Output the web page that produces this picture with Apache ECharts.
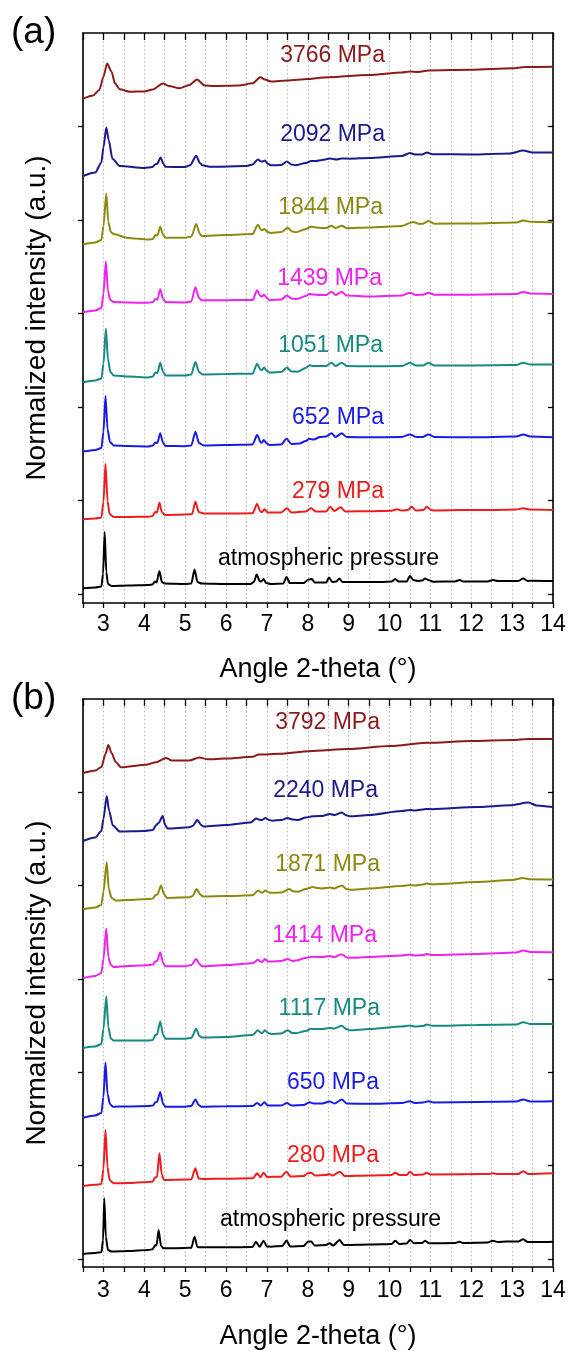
<!DOCTYPE html>
<html><head><meta charset="utf-8">
<script src="https://cdn.jsdelivr.net/npm/echarts@6/dist/echarts.min.js"></script>
<style>html,body{margin:0;padding:0;background:#fff}#c{width:570px;height:1351px}</style>
</head><body><div id="c"></div>
<script>
// ---------- DATA (intensity in a.u., traces already stacked) ----------
const xTickLabels = [3,4,5,6,7,8,9,10,11,12,13,14];
const yTicksA = [0,93.5,187,280.5,374,467.5];
const yTicksB = [0,93.4,186.8,280.2,373.6,467];

const namesA = ['atmospheric pressure','279 MPa','652 MPa','1051 MPa','1439 MPa','1844 MPa','2092 MPa','3766 MPa'];
const namesB = ['atmospheric pressure','280 MPa','650 MPa','1117 MPa','1414 MPa','1871 MPa','2240 MPa','3792 MPa'];
const colors = ['#000000','#EE1C1C','#1A1AE6','#168A80','#EE22EE','#8A8A12','#1A1A8A','#8B1A1A'];

const a_atm = [[2.5,5.7],[2.8,6.5],[2.95,7.5],[2.99,20],[3.03,62],[3.07,22],[3.11,10],[3.2,8],[3.6,8.5],[4.1,9],[4.2,9.5],[4.26,12.5],[4.3,11.5],[4.37,23],[4.43,12],[4.5,10.5],[5.0,10],[5.15,10.5],[5.23,24.5],[5.3,12],[5.4,10.5],[6.0,10],[6.6,10],[6.68,12],[6.75,19.5],[6.82,13],[6.86,12.5],[6.92,15],[6.98,11],[7.1,10],[7.4,10.5],[7.48,17],[7.56,11],[7.9,11],[8.02,14.5],[8.1,15],[8.17,11.5],[8.45,11.5],[8.52,16.5],[8.6,12],[8.7,12.5],[8.77,15.5],[8.85,12],[9.1,12],[9.8,12],[10.05,12.5],[10.14,15],[10.22,12.5],[10.42,12.5],[10.5,18],[10.58,14],[10.7,13],[10.8,13.5],[10.87,15.5],[10.95,14],[11.07,12.3],[11.6,12.5],[11.72,14],[11.8,12.5],[12.4,12.5],[12.53,14],[12.65,13],[12.86,13],[13.15,13],[13.27,15.5],[13.38,13],[13.5,13.3],[14,13]];
const a_279 = [[2.5,74.7],[2.8,75.5],[2.95,76.5],[3.0,92],[3.05,130],[3.1,93],[3.15,80],[3.25,77],[3.6,77],[4.1,77.3],[4.2,78],[4.27,82.3],[4.31,81.5],[4.37,91.3],[4.43,82],[4.5,79],[5.0,79.5],[5.17,80],[5.25,92.3],[5.33,82],[5.45,80.5],[6.0,80.5],[6.65,80.7],[6.76,90],[6.84,82.5],[6.88,82],[6.94,84.7],[7.02,81.5],[7.35,81.5],[7.49,85.7],[7.6,81.5],[7.95,82.5],[8.08,85.7],[8.2,82.5],[8.45,82.5],[8.55,87.3],[8.65,83],[8.8,86.7],[8.92,82.5],[9.5,82.8],[10.05,83.3],[10.18,84.7],[10.3,83.5],[10.45,84],[10.54,87.3],[10.65,83.5],[10.83,84],[10.91,87.3],[11.02,84],[11.1,83.5],[11.72,84],[12.5,84],[13.1,84.5],[13.27,85.7],[13.45,84.5],[14,84]];
const a_652 = [[2.5,142.4],[2.8,144],[2.95,146],[3.0,162],[3.05,198],[3.1,165],[3.16,152],[3.25,148.6],[3.6,148],[4.1,147.5],[4.21,148.5],[4.27,151.6],[4.32,151],[4.39,160.7],[4.46,151],[4.52,148],[5.0,147.8],[5.15,148.5],[5.25,162.2],[5.34,151],[5.45,148.6],[6.0,149],[6.65,149.5],[6.76,159],[6.85,151.5],[6.88,151.5],[6.92,154.1],[7.0,150.5],[7.06,149],[7.35,149.5],[7.48,155.2],[7.6,150],[7.8,150.5],[7.95,153],[8.04,155.2],[8.15,154.5],[8.3,157],[8.45,157.5],[8.58,160.7],[8.68,157],[8.83,160.7],[8.95,157],[9.5,156.7],[10.3,157],[10.5,159.6],[10.65,157],[10.82,157],[10.95,159.6],[11.1,157],[12.0,156.7],[13.1,157.5],[13.27,159.6],[13.45,157.5],[14,156.7]];
const a_1051 = [[2.5,211.8],[2.8,213.5],[2.95,215.5],[3.0,230],[3.06,265.5],[3.11,235],[3.17,222],[3.25,218.5],[3.6,217.5],[4.1,216.6],[4.21,217.5],[4.27,221.4],[4.32,221],[4.39,231.3],[4.46,222],[4.52,218.5],[5.0,218.5],[5.15,219.5],[5.25,232.1],[5.34,222],[5.42,219.6],[6.0,220],[6.65,220.3],[6.76,230.2],[6.84,224.5],[6.88,224],[6.93,226.5],[7.0,223],[7.08,221.4],[7.35,222],[7.49,226.5],[7.6,222.5],[7.75,222.3],[7.95,226],[8.04,228.7],[8.15,228],[8.3,228],[8.45,228],[8.58,231.3],[8.68,228],[8.83,231.3],[8.95,228],[9.5,227.7],[10.3,228],[10.5,231.3],[10.65,228.5],[10.82,228.5],[10.95,231.3],[11.1,228.5],[12.0,228.5],[13.1,229],[13.27,231.3],[13.45,229.5],[14,229.5]];
const a_1439 = [[2.5,281.7],[2.8,283.5],[2.95,286],[3.0,300],[3.06,332.4],[3.11,303],[3.17,294],[3.25,292],[3.6,291.5],[4.1,291.2],[4.21,292],[4.27,294.9],[4.32,294.5],[4.39,304.8],[4.46,295],[4.52,292],[5.0,291.5],[5.15,292.5],[5.25,306.7],[5.34,296],[5.4,293.8],[6.0,293.8],[6.65,294],[6.76,303.7],[6.84,298],[6.88,297.5],[6.93,299.3],[7.0,296],[7.06,293.8],[7.35,294.5],[7.49,298.6],[7.6,295.5],[7.71,294.9],[7.95,298],[8.04,300],[8.15,299.5],[8.3,299],[8.45,299],[8.58,302.3],[8.68,299],[8.83,302.3],[8.95,298.5],[9.5,297.5],[10.3,298.5],[10.5,301.2],[10.65,299],[10.82,299.3],[10.95,301.2],[11.1,299.3],[12.0,299.3],[13.1,300],[13.27,301.9],[13.45,300.5],[14,300]];
const a_1844 = [[2.5,349.7],[2.8,351.5],[2.95,354],[3.0,368],[3.07,400.4],[3.12,372],[3.18,362],[3.25,360],[3.6,356],[4.1,354.5],[4.21,355],[4.27,358.9],[4.32,358.5],[4.39,367.3],[4.46,359],[4.52,356.3],[5.0,356.3],[5.15,357.5],[5.27,369.9],[5.36,360],[5.41,358.1],[6.0,359],[6.65,360],[6.78,369.2],[6.86,364],[6.88,363.7],[6.94,365],[7.02,362],[7.1,361.1],[7.35,362],[7.51,366.2],[7.62,362.5],[7.71,361.8],[7.95,365],[8.08,367.3],[8.2,366.5],[8.35,366],[8.45,366],[8.58,368.3],[8.68,366],[8.83,368.3],[8.95,365.8],[9.5,366.5],[10.3,368],[10.58,372.1],[10.72,370],[10.82,370.3],[10.95,372.9],[11.1,370.3],[12.0,370.5],[13.1,371.5],[13.27,373.6],[13.45,372.2],[14,371.7]];
const a_2092 = [[2.5,418],[2.8,421.4],[2.95,431.6],[3.0,446.4],[3.07,466.6],[3.13,453.7],[3.22,435.3],[3.4,428],[4.0,426.1],[4.2,427],[4.27,429.8],[4.31,430],[4.4,436.4],[4.47,430],[4.52,427.2],[5.0,426.9],[5.12,428.7],[5.27,438.3],[5.36,431],[5.42,428.7],[5.6,427.2],[6.5,428],[6.65,429.5],[6.78,434.6],[6.86,432.5],[6.88,432.4],[6.95,433.5],[7.03,430],[7.1,428.7],[7.35,429],[7.49,432.4],[7.6,429.5],[7.7,428.7],[7.95,431],[8.08,433],[8.2,433],[8.35,434],[8.55,435.5],[8.7,434.5],[8.83,435.5],[9.03,435.3],[9.5,436],[10.3,438],[10.5,441],[10.62,439.5],[10.8,439.5],[10.92,441.6],[11.05,439.8],[12.0,439.5],[12.95,440.5],[13.27,443.4],[13.5,441.5],[14,441.6]];
const a_3766 = [[2.5,495.3],[2.75,498.6],[2.9,504],[3.0,517.3],[3.09,530.5],[3.2,522.3],[3.28,510.7],[3.4,504.7],[3.64,502.3],[4.0,502.6],[4.2,504.4],[4.46,510.5],[4.6,508],[4.86,505.7],[5.1,509],[5.29,514.6],[5.48,508.5],[5.7,508],[6.3,508.5],[6.65,510.7],[6.84,516.8],[6.95,514.5],[7.1,512.5],[7.5,513.5],[8.0,515],[8.3,516.2],[9.5,519.1],[10.3,521.5],[10.5,522.5],[10.7,522],[10.95,523.6],[12.0,524.3],[13.0,525.8],[13.3,526.9],[14,527.2]];

const b_atm = [[2.5,5],[2.8,6],[2.95,6.8],[2.99,19],[3.02,60.7],[3.06,22],[3.11,9],[3.2,7.5],[3.6,8],[4.1,9],[4.2,9.7],[4.27,14],[4.3,13.5],[4.35,29],[4.41,13],[4.47,10.7],[5.0,11],[5.15,11.3],[5.23,22.3],[5.3,12],[5.4,11.7],[6.0,11.7],[6.65,12],[6.73,17.3],[6.82,12.3],[6.92,18.3],[7.0,12.5],[7.1,12.3],[7.38,13],[7.48,18.5],[7.57,12.5],[7.9,13],[8.0,17.3],[8.08,17.5],[8.17,13.5],[8.45,14],[8.53,15.7],[8.62,13.5],[8.78,19],[8.88,14],[9.2,14.2],[9.8,14.7],[10.05,15],[10.14,18.3],[10.24,15],[10.42,15.5],[10.5,19],[10.6,15.8],[10.8,16],[10.87,18.3],[10.97,15.7],[11.6,16],[11.72,17.3],[11.8,16],[12.4,16.5],[12.53,18.3],[12.65,17],[12.86,17.5],[13.15,17.5],[13.27,19.7],[13.38,17],[13.6,17],[14,17.3]];
const b_280 = [[2.5,73],[2.8,74.2],[2.95,75],[3.0,90],[3.05,129],[3.1,92],[3.15,79],[3.25,75.7],[3.6,76],[4.1,77],[4.2,77.3],[4.27,81.7],[4.31,82],[4.37,105.7],[4.43,84],[4.48,79],[5.0,79.5],[5.15,79.7],[5.25,90.7],[5.33,80.5],[5.45,80],[6.0,80.3],[6.66,80.7],[6.76,85.7],[6.84,81.7],[6.92,86.3],[7.0,82],[7.35,82.3],[7.48,87.3],[7.58,82.5],[7.9,83],[8.0,85.7],[8.08,86.3],[8.18,83.5],[8.45,84],[8.52,85],[8.6,83.5],[8.79,87.3],[8.9,83],[9.5,83.5],[10.05,84],[10.14,86.3],[10.25,84],[10.42,84],[10.5,87.3],[10.6,84],[10.82,84.5],[10.91,86.3],[11.0,84.5],[12.4,85],[12.53,85.7],[12.65,85],[13.15,85],[13.27,87.7],[13.4,85],[14,85.7]];
const b_650 = [[2.5,141.3],[2.8,143.5],[2.95,146],[3.0,162],[3.05,196.4],[3.1,165],[3.16,155],[3.23,152.3],[3.6,152.5],[4.1,153],[4.21,153.5],[4.27,156.7],[4.31,157],[4.39,167],[4.46,155],[4.52,152.3],[5.0,152.3],[5.15,153],[5.25,159.6],[5.33,154],[5.39,152.3],[6.0,152.7],[6.65,153],[6.76,156],[6.85,153.5],[6.94,156.7],[7.02,153.5],[7.35,153.5],[7.49,156],[7.6,153.5],[7.9,154],[8.04,156.7],[8.15,155.5],[8.35,155.5],[8.54,157.5],[8.65,155.5],[8.83,159.6],[8.95,155.5],[9.5,155.2],[10.3,156],[10.5,157.8],[10.62,156],[10.82,156.5],[10.95,157.8],[11.08,156.5],[12.13,157],[13.1,157.5],[13.27,159.6],[13.45,157.5],[14,157.8]];
const b_1117 = [[2.5,211.1],[2.8,212.5],[2.95,215],[3.0,230],[3.07,262.6],[3.12,232],[3.18,220.5],[3.25,218.5],[3.6,218.5],[4.1,218.5],[4.21,219],[4.27,224],[4.31,224.5],[4.39,237.6],[4.46,224],[4.52,220.3],[5.0,220.3],[5.15,221],[5.27,230.2],[5.35,223],[5.41,221.4],[6.0,222],[6.65,224],[6.78,228.7],[6.86,226],[6.88,225.8],[6.95,228.7],[7.03,226],[7.1,225.1],[7.35,225.5],[7.51,228.7],[7.62,226],[7.71,225.8],[7.95,228],[8.08,230.2],[8.2,230],[8.35,230],[8.54,231],[8.65,230.5],[8.83,233.2],[8.95,230],[9.03,228.7],[9.5,230],[10.3,232.5],[10.5,233.5],[10.62,232.5],[10.82,233],[10.91,234.5],[11.05,233.2],[12.13,234],[13.1,234.5],[13.27,236.8],[13.45,235],[14,235]];
const b_1414 = [[2.5,281],[2.8,283],[2.95,286],[3.0,300],[3.07,330.6],[3.12,302],[3.18,294],[3.25,292],[3.6,293],[4.1,293.8],[4.21,294.5],[4.27,297.5],[4.31,298],[4.39,306.7],[4.46,296],[4.52,292.7],[5.0,292.7],[5.15,294],[5.27,300],[5.35,295],[5.41,292.7],[6.0,294],[6.65,295.7],[6.78,299.3],[6.86,297],[6.88,297],[6.95,300],[7.03,297.5],[7.1,297.5],[7.35,298],[7.51,300],[7.62,298],[7.71,298.5],[7.95,301],[8.08,302.3],[8.2,302],[8.35,302],[8.54,303],[8.65,302],[8.83,304.8],[8.95,301.5],[9.03,301.2],[9.5,302],[10.3,303.5],[10.5,304.5],[10.62,303.5],[10.82,304],[10.91,305],[11.05,304],[12.13,305],[13.1,306.5],[13.27,308.5],[13.45,307],[14,306.7]];
const b_1871 = [[2.5,349.7],[2.8,351.5],[2.95,354],[3.0,367],[3.08,396.7],[3.13,370],[3.2,361],[3.3,358.5],[3.6,359],[4.1,360],[4.21,360.5],[4.27,363.7],[4.32,364.5],[4.41,373.6],[4.48,365],[4.55,361.1],[5.1,361.8],[5.18,363],[5.28,369.9],[5.37,364.5],[5.43,362.6],[6.0,363],[6.65,363.7],[6.79,368.4],[6.86,366.5],[6.88,366.2],[6.96,368.4],[7.05,366.5],[7.14,366.2],[7.35,366.5],[7.54,369.9],[7.66,367.5],[7.76,367.3],[7.95,370],[8.12,372.1],[8.25,371],[8.35,370.5],[8.54,371.5],[8.65,370.5],[8.83,373.6],[8.95,370],[9.03,369.2],[9.5,370.5],[10.3,373],[10.5,374],[10.62,373.5],[10.82,374.5],[10.91,375.5],[11.05,374.7],[12.13,377],[13.0,379],[13.27,380.9],[13.45,379.8],[14,379.5]];
const b_2240 = [[2.5,418],[2.8,421.4],[2.95,428],[3.0,440],[3.08,463],[3.14,448],[3.23,433.5],[3.4,427.5],[4.0,428],[4.21,429],[4.29,434],[4.35,436],[4.45,443],[4.51,434],[4.57,430.5],[5.1,431.7],[5.18,433],[5.3,439],[5.39,434],[5.45,432.5],[6.0,434],[6.6,436.5],[6.74,440.5],[6.82,439.2],[6.88,439],[6.96,440.9],[7.05,439],[7.14,438.3],[7.35,439],[7.5,440.9],[7.63,439.5],[7.76,439],[7.95,441.5],[8.12,442.7],[8.25,443],[8.35,443],[8.54,445],[8.65,444],[8.83,446.4],[8.95,443.5],[9.03,442.7],[9.5,444],[10.3,448],[10.5,449],[10.62,448.5],[10.91,450],[11.05,449.8],[12.13,452],[12.95,453.7],[13.4,456.5],[13.6,453.5],[14,451.9]];
const b_3792 = [[2.5,486],[2.8,488.6],[2.95,492],[3.05,505],[3.12,514],[3.2,506],[3.3,497],[3.43,491.7],[4.04,494.2],[4.29,496.7],[4.53,501],[4.66,498.6],[5.1,498.6],[5.35,501.5],[5.55,499.7],[6.0,500.5],[6.65,502.2],[6.8,504.5],[7.31,505.2],[8.04,507.8],[9.0,510],[10.0,513],[10.91,516.2],[12.0,518],[13.0,519],[13.4,520],[14,519.9]];

const tracesA = [a_atm,a_279,a_652,a_1051,a_1439,a_1844,a_2092,a_3766];
const tracesB = [b_atm,b_280,b_650,b_1117,b_1414,b_1871,b_2240,b_3792];

// ---------- LAYOUT ----------
const FONT = '"Liberation Sans", Arial, sans-serif';
const labelPosA = [[218,559,'left'],[384,492,'right'],[384,418,'right'],[383,346,'right'],[382,279,'right'],[383,208,'right'],[385,135,'right'],[385,56,'right']];
const labelPosB = [[220,1220,'left'],[379,1156,'right'],[379,1083,'right'],[380,1009,'right'],[377,936,'right'],[380,865,'right'],[378,791,'right'],[380,723,'right']];

const chart = echarts.init(document.getElementById('c'), null, {renderer:'canvas'});

function xAxes(grid, bottomMargin, nameGap){
  const common = {gridIndex:grid, type:'value', min:2.5, max:14, interval:0.5};
  return [
    Object.assign({}, common, {
      position:'bottom',
      axisLine:{onZero:false, lineStyle:{color:'#000', width:1.6}},
      axisTick:{show:true, inside:false, length:5, lineStyle:{color:'#000', width:1.3}},
      axisLabel:{show:true, margin:bottomMargin, color:'#000', fontSize:23, fontFamily:FONT,
        formatter:v => xTickLabels.includes(v) ? String(v) : ''},
      splitLine:{show:true, lineStyle:{color:'#b4b4b4', type:[1.5,2.5], width:1}},
      name:'Angle 2-theta (°)', nameLocation:'middle', nameGap:nameGap,
      nameTextStyle:{color:'#000', fontSize:27, fontFamily:FONT}
    }),
    Object.assign({}, common, {
      position:'top',
      axisLine:{onZero:false, lineStyle:{color:'#000', width:1.6}},
      axisTick:{show:true, inside:true, length:7, lineStyle:{color:'#000', width:1.3}},
      axisLabel:{show:false}, splitLine:{show:false}
    })
  ];
}
function yAxes(grid, min, max, ticks){
  return [
    {gridIndex:grid, type:'value', min:min, max:max, position:'left',
     axisLine:{show:true, onZero:false, lineStyle:{color:'#000', width:1.6}},
     axisTick:{show:true, inside:false, length:5, customValues:ticks, lineStyle:{color:'#000', width:1.3}},
     axisLabel:{show:false, customValues:ticks}, splitLine:{show:false}},
    {gridIndex:grid, type:'value', min:min, max:max, position:'right',
     axisLine:{show:true, onZero:false, lineStyle:{color:'#000', width:1.6}},
     axisTick:{show:true, inside:true, length:5, customValues:ticks, lineStyle:{color:'#000', width:1.3}},
     axisLabel:{show:false, customValues:ticks}, splitLine:{show:false}}
  ];
}

const series = [];
tracesA.forEach((d,i)=>series.push({type:'line', name:namesA[i], xAxisIndex:0, yAxisIndex:0, data:d,
  showSymbol:false, smooth:0.25, smoothMonotone:'x', lineStyle:{color:colors[i], width:2}, itemStyle:{color:colors[i]}, z:3+i, animation:false}));
tracesB.forEach((d,i)=>series.push({type:'line', name:namesB[i], xAxisIndex:2, yAxisIndex:2, data:d,
  showSymbol:false, smooth:0.25, smoothMonotone:'x', lineStyle:{color:colors[i], width:2}, itemStyle:{color:colors[i]}, z:3+i, animation:false}));

const graphics = [];
function addText(t, x, y, align, color, size, rot){
  graphics.push({type:'text', x:x, y:y, rotation:rot||0, z:100,
    style:{text:t, fill:color, font:size+'px '+FONT, align:align, verticalAlign:'middle'}});
}
namesA.forEach((n,i)=>addText(n, labelPosA[i][0], labelPosA[i][1], labelPosA[i][2], colors[i], 23));
namesB.forEach((n,i)=>addText(n, labelPosB[i][0], labelPosB[i][1], labelPosB[i][2], colors[i], 23));
addText('(a)', 11, 33, 'left', '#000', 37);
addText('(b)', 11, 699, 'left', '#000', 37);
addText('Normalized intensity (a.u.)', 37, 318, 'center', '#000', 28, Math.PI/2);
addText('Normalized intensity (a.u.)', 37, 983, 'center', '#000', 28, Math.PI/2);

chart.setOption({
  animation:false,
  backgroundColor:'#fff',
  grid:[{left:83, top:33, width:470, height:570},{left:83, top:699, width:470, height:568}],
  xAxis:[...xAxes(0, 10, 53), ...xAxes(1, 12, 56)],
  yAxis:[...yAxes(0, -9, 561, yTicksA), ...yAxes(1, -8, 560, yTicksB)],
  series:series,
  graphic:graphics
});
</script></body></html>
